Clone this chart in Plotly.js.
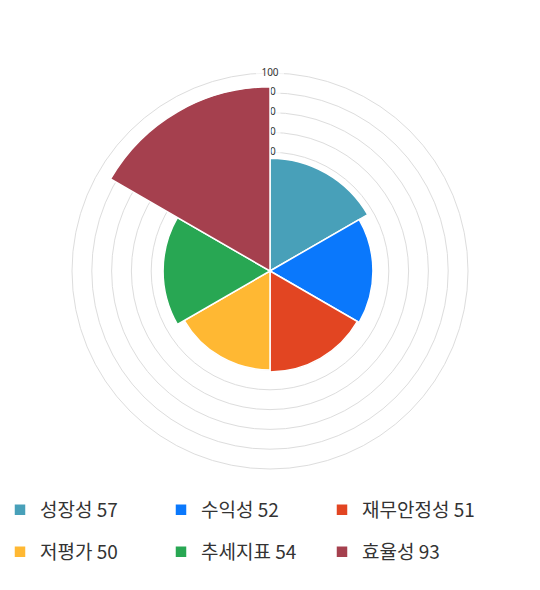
<!DOCTYPE html>
<html>
<head>
<meta charset="utf-8">
<script src="https://cdn.plot.ly/plotly-3.0.1.min.js"></script>
<style>
  html, body { margin: 0; padding: 0; background: #fff; }
  #chart { width: 540px; height: 590px; }
</style>
</head>
<body>
<div id="chart"></div>
<script>
var categories = ['성장성', '수익성', '재무안정성', '저평가', '추세지표', '효율성'];
var scores = [57, 52, 51, 50, 54, 93];
var colors = ['#48a0b9', '#0a78fc', '#e24522', '#ffb833', '#28a753', '#a5404e'];
var radialTicks = [10, 20, 30, 40, 50, 60, 70, 80, 90, 100];

var step = 360 / categories.length;

// tick labels live in the lower polar so the bars (upper polar) cover them
var tickLabels = {
  type: 'scatterpolar',
  subplot: 'polar',
  mode: 'markers+text',
  r: radialTicks,
  theta: radialTicks.map(function () { return 0; }),
  text: radialTicks.map(String),
  textposition: 'middle center',
  textfont: { family: 'Noto Sans', size: 10, color: '#333' },
  marker: {
    symbol: 'line-ew',
    color: '#fff',
    size: radialTicks.map(function (t) { return String(t).length * 5 + 5; }),
    line: { color: '#fff', width: 8 }
  },
  showlegend: false,
  hoverinfo: 'skip'
};

var bars = categories.map(function (name, i) {
  return {
    type: 'barpolar',
    subplot: 'polar2',
    r: [scores[i]],
    theta: [step * i + step / 2],
    width: [step],
    name: name + ' ' + scores[i],
    marker: { color: colors[i], line: { color: '#fff', width: 1.5 } },
    legend: i < 3 ? 'legend' : 'legend2',
    hoverinfo: 'skip'
  };
});

var legendBase = {
  orientation: 'h',
  yref: 'container',
  x: 0,
  xanchor: 'left',
  yanchor: 'middle',
  valign: 'top',
  entrywidth: 116,
  font: { family: 'Noto Sans CJK KR', size: 19, color: '#333' },
  itemclick: false,
  bgcolor: 'rgba(0,0,0,0)'
};

var angular = {
  direction: 'clockwise',
  rotation: 90,
  showgrid: false,
  showticklabels: false,
  ticks: ''
};

var plotX = [72 / 540, 468 / 540];

var layout = {
  width: 540,
  height: 590,
  margin: { l: 0, r: 0, t: 73, b: 121 },
  paper_bgcolor: '#fff',
  showlegend: true,
  legend: Object.assign({}, legendBase, { y: 80 / 590 }),
  legend2: Object.assign({}, legendBase, { y: 38 / 590 }),
  polar: {
    bgcolor: '#fff',
    domain: { x: plotX, y: [0, 1] },
    angularaxis: Object.assign({}, angular, {
      showline: true,
      linecolor: '#ddd',
      linewidth: 1,
      layer: 'below traces'
    }),
    radialaxis: {
      range: [0, 100],
      tickvals: radialTicks,
      showticklabels: false,
      showline: false,
      ticks: '',
      gridcolor: '#ddd',
      gridwidth: 1,
      layer: 'below traces'
    }
  },
  polar2: {
    bgcolor: 'rgba(0,0,0,0)',
    bargap: 0,
    domain: { x: plotX, y: [0, 1] },
    angularaxis: Object.assign({}, angular, { showline: false }),
    radialaxis: {
      range: [0, 100],
      showgrid: false,
      showline: false,
      showticklabels: false,
      ticks: ''
    }
  }
};

Plotly.newPlot('chart', [tickLabels].concat(bars), layout, { displayModeBar: false, staticPlot: true });
</script>
</body>
</html>
